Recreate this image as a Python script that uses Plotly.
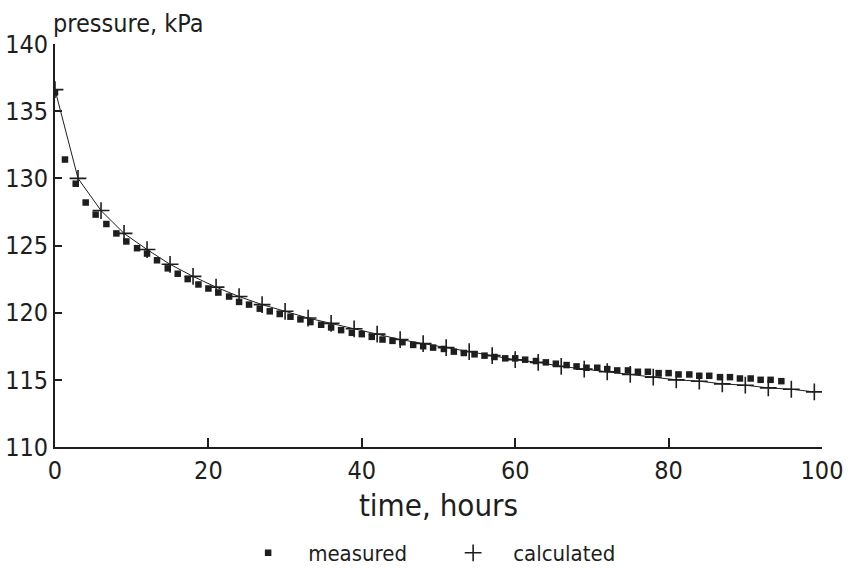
import plotly.graph_objects as go

# measured pressure (kPa) vs time (hours)
measured_t = [0.0, 1.3, 2.7, 4.0, 5.3, 6.7, 8.0, 9.3, 10.7, 12.0, 13.3, 14.7, 16.0, 17.3, 18.7,
              20.0, 21.3, 22.7, 24.0, 25.3, 26.7, 28.0, 29.3, 30.7, 32.0, 33.3, 34.7, 36.0, 37.3,
              38.7, 40.0, 41.3, 42.7, 44.0, 45.3, 46.7, 48.0, 49.3, 50.7, 52.0, 53.3, 54.7, 56.0,
              57.3, 58.7, 60.0, 61.3, 62.7, 64.0, 65.3, 66.7, 68.0, 69.3, 70.7, 72.0, 73.3, 74.7,
              76.0, 77.3, 78.7, 80.0, 81.3, 82.7, 84.0, 85.3, 86.7, 88.0, 89.3, 90.7, 92.0, 93.3,
              94.7]
measured_p = [136.4, 131.4, 129.6, 128.2, 127.3, 126.6, 125.9, 125.3, 124.8, 124.4, 123.9, 123.3,
              122.9, 122.5, 122.1, 121.8, 121.5, 121.2, 120.8, 120.6, 120.3, 120.1, 119.9, 119.7,
              119.5, 119.3, 119.1, 118.9, 118.7, 118.5, 118.4, 118.2, 118.0, 117.9, 117.8, 117.6,
              117.5, 117.4, 117.3, 117.1, 117.0, 116.9, 116.8, 116.7, 116.6, 116.6, 116.5, 116.4,
              116.3, 116.2, 116.1, 116.0, 115.9, 115.9, 115.8, 115.7, 115.7, 115.6, 115.6, 115.5,
              115.5, 115.4, 115.4, 115.3, 115.3, 115.2, 115.2, 115.1, 115.1, 115.0, 115.0, 114.9]

# calculated pressure (kPa)
calc_t = [0, 3, 6, 9, 12, 15, 18, 21, 24, 27, 30, 33, 36, 39, 42, 45, 48, 51, 54, 57, 60,
          63, 66, 69, 72, 75, 78, 81, 84, 87, 90, 93, 96, 99]
calc_p = [136.6, 130.0, 127.6, 125.9, 124.7, 123.6, 122.7, 121.9, 121.2, 120.6, 120.1, 119.6,
          119.2, 118.8, 118.4, 118.0, 117.7, 117.4, 117.1, 116.8, 116.5, 116.3, 116.0, 115.8,
          115.6, 115.4, 115.2, 115.0, 114.9, 114.7, 114.6, 114.4, 114.3, 114.1]

x_ticks = [0, 20, 40, 60, 80, 100]
y_ticks = [110, 115, 120, 125, 130, 135, 140]

FONT = "Liberation Sans Narrow, DejaVu Sans Condensed, Arial Narrow, sans-serif"
INK = "#1e1e1e"

fig = go.Figure()
fig.add_trace(go.Scatter(x=calc_t, y=calc_p, mode="lines", showlegend=False,
                         line=dict(color=INK, width=1), hoverinfo="skip"))
fig.add_trace(go.Scatter(x=measured_t, y=measured_p, mode="markers", name="measured",
                         marker=dict(symbol="square", size=6.5, color=INK)))
fig.add_trace(go.Scatter(x=calc_t, y=calc_p, mode="markers", name="calculated",
                         marker=dict(symbol="cross-thin", size=12, color=INK,
                                     line=dict(color=INK, width=1.6))))

fig.update_layout(
    width=848, height=569,
    margin=dict(l=55, r=26, t=44, b=122, autoexpand=False),
    paper_bgcolor="white", plot_bgcolor="white",
    font=dict(family=FONT, color=INK, size=22),
    xaxis=dict(range=[0, 100], tickvals=x_ticks, ticks="inside", ticklen=9, tickwidth=1.5,
               tickcolor=INK, showgrid=False, zeroline=False, showline=True, linecolor=INK,
               linewidth=1.8, tickfont=dict(size=25), automargin=False,
               title=dict(text="time, hours", font=dict(size=31), standoff=10)),
    yaxis=dict(range=[110, 140], tickvals=y_ticks, ticks="inside", ticklen=7, tickwidth=1.5,
               tickcolor=INK, showgrid=False, zeroline=False, showline=True, linecolor=INK,
               linewidth=1.8, tickfont=dict(size=25), automargin=False),
    legend=dict(orientation="h", x=0.493, xanchor="center", y=-0.263, yanchor="middle",
                font=dict(size=22), itemwidth=70, entrywidth=120,
                bgcolor="rgba(0,0,0,0)"),
    annotations=[dict(text="pressure, kPa", x=0, y=1, xref="paper", yref="paper",
                      xanchor="left", yanchor="bottom", showarrow=False, yshift=4, xshift=-4,
                      font=dict(size=25))],
)

fig.write_html("out.html")
